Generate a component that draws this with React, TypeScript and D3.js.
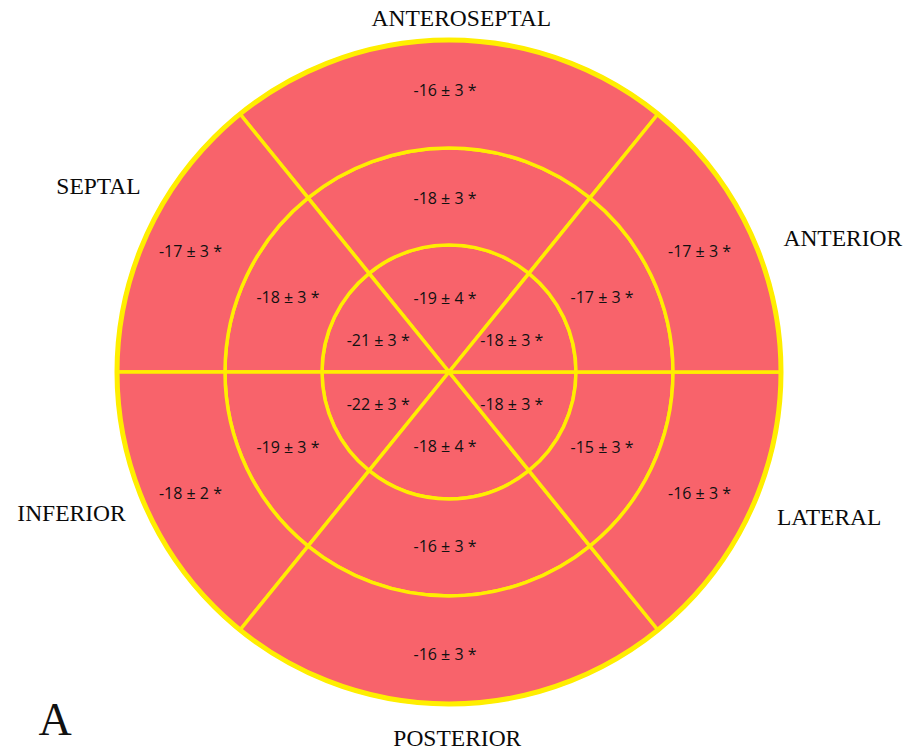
import * as d3 from 'd3'

// wall order: anteroseptal, septal, inferior, posterior, lateral, anterior
const walls = ['ANTEROSEPTAL', 'SEPTAL', 'INFERIOR', 'POSTERIOR', 'LATERAL', 'ANTERIOR']
const basalMean = [-16, -17, -18, -16, -16, -17]
const basalSd = [3, 3, 2, 3, 3, 3]
const midMean = [-18, -18, -19, -16, -15, -17]
const midSd = [3, 3, 3, 3, 3, 3]
const apicalMean = [-19, -21, -22, -18, -18, -18]
const apicalSd = [4, 3, 3, 4, 3, 3]
const panel = 'A'

const width = 917, height = 753
const cx = 449, cy = 372
const radii = [0, 127, 224, 332]
// segment boundaries, degrees counter-clockwise from east
const bounds = [[51, 129], [129, 180], [180, 231], [231, 309], [309, 360], [0, 51]]
const wallPos = [[88, 354], [152, 397], [200.5, 403], [-88.7, 366], [-20.9, 407], [18.8, 416]]
const fill = '#f8636b', stroke = '#ffee00'

const toD3 = (deg: number) => (90 - deg) * Math.PI / 180
const polar = (deg: number, r: number) => [cx + r * Math.cos(deg * Math.PI / 180), cy - r * Math.sin(deg * Math.PI / 180)]

export default function App() {
    const rings = [
        {mean: apicalMean, sd: apicalSd, r0: radii[0], r1: radii[1], lr: 74},
        {mean: midMean, sd: midSd, r0: radii[1], r1: radii[2], lr: 174},
        {mean: basalMean, sd: basalSd, r0: radii[2], r1: radii[3], lr: 282},
    ]
    const arc = d3.arc<any>()

    return (
        <svg width={width} height={height} style={{position: 'absolute', left: 0, top: 0, background: '#fff'}}>
            {rings.map((ring, ri) => bounds.map((b, i) => (
                <path key={`s${ri}-${i}`}
                    transform={`translate(${cx},${cy})`}
                    d={arc({innerRadius: ring.r0, outerRadius: ring.r1, startAngle: toD3(b[1]), endAngle: toD3(b[0])}) || ''}
                    fill={fill} stroke={stroke} strokeWidth={3.5} strokeLinejoin="round"/>
            )))}
            <circle cx={cx} cy={cy} r={radii[3]} fill="none" stroke={stroke} strokeWidth={5}/>
            {rings.map((ring, ri) => bounds.map((b, i) => {
                const [x, y] = polar((b[0] + b[1]) / 2, ring.lr)
                return (
                    <text key={`v${ri}-${i}`} x={x - 4} y={y} textAnchor="middle" dominantBaseline="central"
                        fontFamily="'Open Sans', sans-serif" fontSize={16} fill="#111">
                        {`${ring.mean[i]} ± ${ring.sd[i]} *`}
                    </text>
                )
            }))}
            {walls.map((w, i) => {
                const [x, y] = polar(wallPos[i][0], wallPos[i][1])
                return (
                    <text key={w} x={x} y={y} textAnchor="middle" dominantBaseline="central"
                        fontFamily="'Liberation Serif', 'Times New Roman', serif" fontSize={23.5} fill="#0a0a0a">
                        {w}
                    </text>
                )
            })}
            <text x={55} y={735} textAnchor="middle" fontFamily="'Liberation Serif', serif" fontSize={46} fill="#111">{panel}</text>
        </svg>
    )
}
